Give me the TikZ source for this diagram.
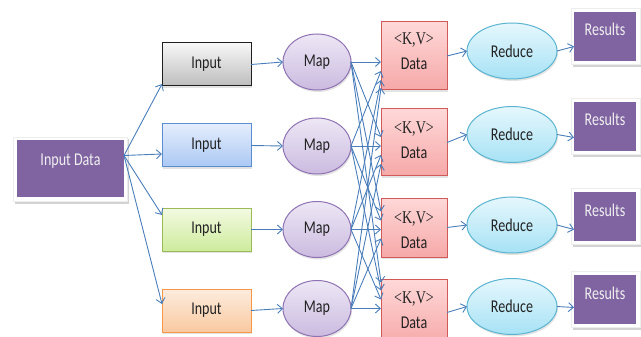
\documentclass[tikz,border=0pt]{standalone}
\usepackage{fontspec}
\setmainfont{Carlito}[FakeStretch=0.78]
\newfontfamily\kvfont{Liberation Serif}[FakeStretch=0.78]
\usetikzlibrary{arrows.meta,shadows,shapes.geometric}
\definecolor{arrowblue}{HTML}{4A7EBB}
\definecolor{purp}{HTML}{8064A2}
\definecolor{txt}{HTML}{222222}
\definecolor{inblueline}{HTML}{5B8DD0}
\tikzset{
  base/.style={font=\fontsize{18}{22}\selectfont, text=txt, inner sep=0pt, outer sep=0pt},
  softshadow/.style={drop shadow={shadow xshift=1pt, shadow yshift=-2pt, opacity=0.22}},
  inbox/.style={base, rectangle, minimum width=89pt, minimum height=43pt, line width=1pt, softshadow},
  ingray/.style={inbox, draw=black!88, top color=black!3, bottom color=black!26},
  inblue/.style={inbox, draw=inblueline, top color={rgb,255:red,228;green,237;blue,252}, bottom color={rgb,255:red,170;green,200;blue,244}},
  ingreen/.style={inbox, draw={rgb,255:red,155;green,187;blue,89}, top color={rgb,255:red,243;green,250;blue,226}, bottom color={rgb,255:red,206;green,235;blue,156}},
  inorange/.style={inbox, draw={rgb,255:red,247;green,150;blue,70}, top color={rgb,255:red,253;green,236;blue,222}, bottom color={rgb,255:red,249;green,201;blue,160}},
  mapnode/.style={base, ellipse, minimum width=68pt, minimum height=56pt, line width=1pt, draw={rgb,255:red,142;green,114;blue,179}, top color={rgb,255:red,237;green,231;blue,245}, bottom color={rgb,255:red,203;green,187;blue,224}, softshadow},
  databox/.style={base, rectangle, minimum width=66pt, line width=1pt, draw={rgb,255:red,208;green,90;blue,90}, top color={rgb,255:red,255;green,216;blue,216}, bottom color={rgb,255:red,246;green,168;blue,168}, softshadow},
  kvlab/.style={base, align=center, font=\fontsize{18}{25}\selectfont},
  reducenode/.style={base, ellipse, minimum width=90pt, minimum height=56pt, line width=1pt, draw={rgb,255:red,91;green,181;blue,208}, top color={rgb,255:red,230;green,247;blue,253}, bottom color={rgb,255:red,166;green,226;blue,245}, softshadow},
  frame/.style={rectangle, inner sep=0pt, fill=white, draw=black!7, line width=0.5pt, drop shadow={shadow xshift=1.5pt, shadow yshift=-2.5pt, opacity=0.35}},
  purpbox/.style={base, rectangle, fill=purp, text=white!94!black},
  arr/.style={draw=arrowblue, line width=0.9pt, -{Straight Barb[length=5pt,width=9pt,line width=0.9pt]}}
}
\begin{document}
\begin{tikzpicture}[x=1pt,y=-1pt]
\useasboundingbox (0,0) rectangle (641,337);

% Input Data
\node[frame, minimum width=114pt, minimum height=64pt] (idatf) at (70.5,169) {};
\node[purpbox, minimum width=107pt, minimum height=57pt, text height=13pt, text depth=20pt] (idat) at (70.5,168.5) {Input Data};

% Inputs
\node[ingray]   (i1) at (206.5,64.5)  {Input};
\node[inblue]   (i2) at (206.5,145.5) {Input};
\node[ingreen]  (i3) at (206.5,229.5) {Input};
\node[inorange] (i4) at (206.5,310.5) {Input};

% Maps
\node[mapnode] (m1) at (317,62)    {Map};
\node[mapnode] (m2) at (317,146)   {Map};
\node[mapnode] (m3) at (317,229.5) {Map};
\node[mapnode] (m4) at (317,308.5) {Map};

% Data
\node[databox, minimum height=68pt, label={[kvlab, yshift=5pt]center:{{\kvfont <K,V>}\\Data}}]   (d1) at (414,56)    {};
\node[databox, minimum height=67pt, label={[kvlab, yshift=2.5pt]center:{{\kvfont <K,V>}\\Data}}] (d2) at (414,142.5) {};
\node[databox, minimum height=59pt, label={[kvlab, yshift=-3pt]center:{{\kvfont <K,V>}\\Data}}]  (d3) at (414,227.5) {};
\node[databox, minimum height=67pt, label={[kvlab, yshift=2pt]center:{{\kvfont <K,V>}\\Data}}]   (d4) at (414,312.5) {};

% Reduce
\node[reducenode] (r1) at (512,51)    {Reduce};
\node[reducenode] (r2) at (512,134.5) {Reduce};
\node[reducenode] (r3) at (512,225)   {Reduce};
\node[reducenode] (r4) at (512,306.5) {Reduce};

% Results
\node[frame, minimum width=69pt, minimum height=56pt] (res1f) at (605.5,36.5)  {};
\node[frame, minimum width=69pt, minimum height=56pt] (res2f) at (605.5,126.5) {};
\node[frame, minimum width=69pt, minimum height=56pt] (res3f) at (605.5,216.5) {};
\node[frame, minimum width=69pt, minimum height=56pt] (res4f) at (605.5,299.5) {};
\node[purpbox, minimum width=62pt, minimum height=49pt, text height=13pt, text depth=14pt] (res1) at (605,36.5)  {Results};
\node[purpbox, minimum width=62pt, minimum height=49pt, text height=13pt, text depth=14pt] (res2) at (605,126.5) {Results};
\node[purpbox, minimum width=62pt, minimum height=49pt, text height=13pt, text depth=14pt] (res3) at (605,216.5) {Results};
\node[purpbox, minimum width=62pt, minimum height=49pt, text height=13pt, text depth=14pt] (res4) at (605,299.5) {Results};

% Input Data -> Inputs
\coordinate (src) at ([yshift=13pt]idat.east);
\draw[arr] (src) -- ([yshift=2pt]i1.south west);
\draw[arr] (src) -- ([yshift=-8.5pt]i2.west);
\draw[arr] (src) -- ([yshift=14.5pt]i3.west);
\draw[arr] (src) -- ([yshift=6.5pt]i4.west);

% Inputs -> Maps
\draw[arr] (i1.east) -- (m1.west);
\draw[arr] (i2.east) -- (m2.west);
\draw[arr] (i3.east) -- (m3.west);
\draw[arr] (i4.east) -- (m4.west);

% Maps -> Data (all to all)
\draw[arr] (m1.east) -- ([yshift=-6pt]d1.west);
\draw[arr] (m2.east) -- ([yshift=-15pt]d1.west);
\draw[arr] (m3.east) -- ([yshift=-24pt]d1.west);
\draw[arr] (m4.east) -- ([yshift=-32pt]d1.west);
\draw[arr] (m1.east) -- ([yshift=5.5pt]d2.west);
\draw[arr] (m2.east) -- ([yshift=-3.5pt]d2.west);
\draw[arr] (m3.east) -- ([yshift=-12.5pt]d2.west);
\draw[arr] (m4.east) -- ([yshift=-21.5pt]d2.west);
\draw[arr] (m1.east) -- ([yshift=16pt]d3.west);
\draw[arr] (m2.east) -- ([yshift=7pt]d3.west);
\draw[arr] (m3.east) -- ([yshift=-2pt]d3.west);
\draw[arr] (m4.east) -- ([yshift=-11pt]d3.west);
\draw[arr] (m1.east) -- ([yshift=30pt]d4.west);
\draw[arr] (m2.east) -- ([yshift=22pt]d4.west);
\draw[arr] (m3.east) -- ([yshift=13pt]d4.west);
\draw[arr] (m4.east) -- ([yshift=4pt]d4.west);

% Data -> Reduce
\draw[arr] (d1.east) -- (r1.west);
\draw[arr] (d2.east) -- (r2.west);
\draw[arr] (d3.east) -- (r3.west);
\draw[arr] (d4.east) -- (r4.west);

% Reduce -> Results
\draw[arr] (r1.east) -- ([yshift=-10pt]res1.west);
\draw[arr] (r2.east) -- ([yshift=-11pt]res2.west);
\draw[arr] (r3.east) -- ([yshift=-13pt]res3.west);
\draw[arr] (r4.east) -- ([yshift=-8pt]res4.west);
\end{tikzpicture}
\end{document}
